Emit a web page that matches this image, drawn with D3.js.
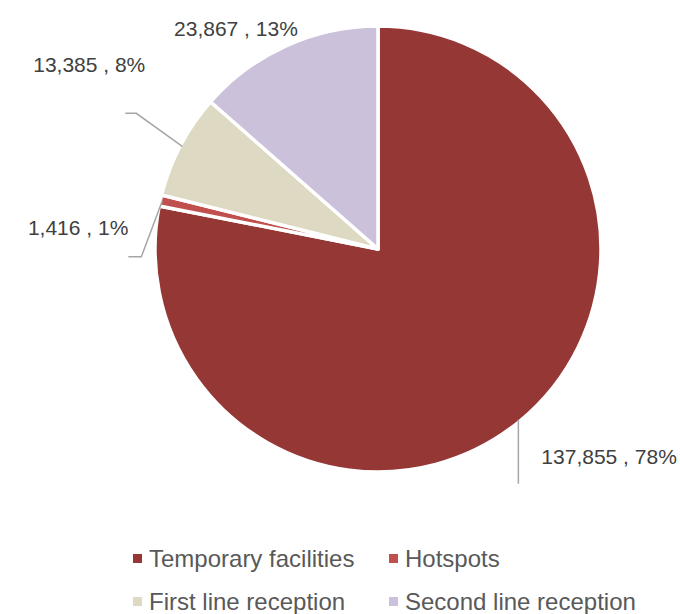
<!DOCTYPE html>
<html>
<head>
<meta charset="utf-8">
<script src="https://cdn.jsdelivr.net/npm/d3@7"></script>
<style>
  body { margin: 0; background: #fff; }
  svg { display: block; font-family: "Liberation Sans", Arial, sans-serif; }
</style>
</head>
<body>
<div id="chart"></div>
<script>
/* Data */
const categories = ["Temporary facilities", "Hotspots", "First line reception", "Second line reception"];
const values = [137855, 1416, 13385, 23867];
const percents = ["78%", "1%", "8%", "13%"];
const colors = ["#953735", "#C0504D", "#DDD9C3", "#CCC1DA"];

/* label layout: leader elbow + label offsets relative to the slice's outer mid point */
const labelLayout = [
  { leader: [[0, 0], [0, 64]], dx: 23, dy: 44, anchor: "start" },
  { leader: [[0, 0], [-21, 56], [-34, 56]], dx: -34, dy: 34, anchor: "end" },
  { leader: [[0, 0], [-46, -33], [-57, -33]], dx: -37, dy: -74, anchor: "end" },
  { leader: null, dx: -51, dy: -12, anchor: "middle" }
];

const width = 680, height = 614;
const cx = 378, cy = 249, radius = 223;

const svg = d3.select("#chart").append("svg")
  .attr("width", width)
  .attr("height", height);

const pie = d3.pie().sort(null).value(d => d)(values);
const arc = d3.arc().innerRadius(0).outerRadius(radius);
const rim = d3.arc().innerRadius(radius - 2).outerRadius(radius - 2);

const g = svg.append("g").attr("transform", `translate(${cx},${cy})`);

g.selectAll(".slice")
  .data(pie)
  .enter()
  .append("path")
  .attr("class", "slice")
  .attr("d", arc)
  .attr("fill", (d, i) => colors[i])
  .attr("stroke", "#fff")
  .attr("stroke-width", 3.5)
  .attr("stroke-linejoin", "round");

/* Labels */
pie.forEach((d, i) => {
  const [px, py] = rim.centroid(d);
  const lay = labelLayout[i];
  if (lay.leader) {
    g.append("path")
      .attr("d", d3.line()(lay.leader.map(p => [px + p[0], py + p[1]])))
      .attr("fill", "none")
      .attr("stroke", "#A6A6A6")
      .attr("stroke-width", 1.5);
  }
  g.append("text")
    .attr("x", px + lay.dx)
    .attr("y", py + lay.dy)
    .attr("text-anchor", lay.anchor)
    .attr("font-size", "21px")
    .attr("fill", "#404040")
    .text(`${d3.format(",")(values[i])} , ${percents[i]}`);
});

/* Legend */
const legend = svg.append("g").attr("transform", "translate(133,554)");
categories.forEach((c, i) => {
  const item = legend.append("g")
    .attr("transform", `translate(${(i % 2) * 256},${Math.floor(i / 2) * 43})`);
  item.append("rect")
    .attr("width", 9)
    .attr("height", 9)
    .attr("fill", colors[i]);
  item.append("text")
    .attr("x", 16)
    .attr("y", 13)
    .attr("font-size", "24px")
    .attr("fill", "#595959")
    .text(c);
});
</script>
</body>
</html>
